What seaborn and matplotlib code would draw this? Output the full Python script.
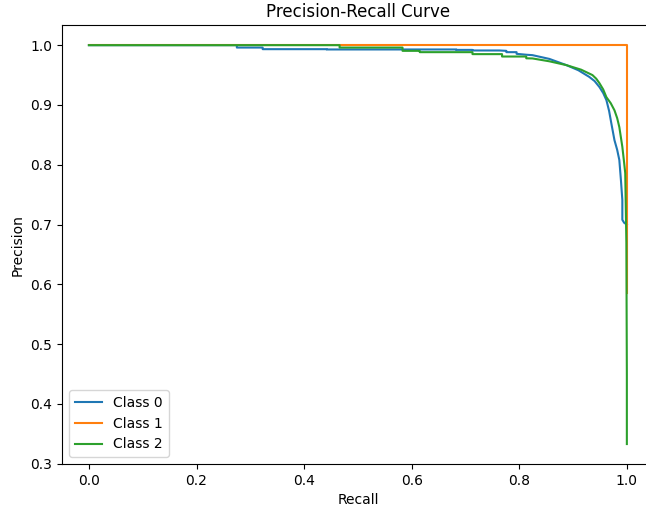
import matplotlib
matplotlib.use("Agg")
import matplotlib.pyplot as plt
import seaborn as sns
import pandas as pd

# Class 0 (blue)
recall_0 = [0.0, 0.275, 0.275, 0.323, 0.323, 0.442, 0.442, 0.683, 0.683, 0.713, 0.713,
            0.763, 0.776, 0.776, 0.795, 0.795, 0.813, 0.8245, 0.856, 0.8877, 0.910, 0.930,
            0.940, 0.949, 0.956, 0.962, 0.967, 0.971, 0.977, 0.982, 0.986, 0.989, 0.9916,
            0.9916, 0.995, 1.0]
precision_0 = [1.0, 1.0, 0.996, 0.996, 0.9933, 0.9933, 0.9928, 0.9928, 0.9921, 0.9921, 0.9911,
               0.9911, 0.9905, 0.9883, 0.9883, 0.9855, 0.9840, 0.9833, 0.977, 0.9666, 0.958,
               0.947, 0.940, 0.930, 0.920, 0.908, 0.890, 0.870, 0.841, 0.825, 0.808, 0.774,
               0.741, 0.708, 0.703, 0.700]

# Class 1 (orange)
recall_1 = [0.0, 1.0, 1.0]
precision_1 = [1.0, 1.0, 0.586]

# Class 2 (green)
recall_2 = [0.0, 0.466, 0.466, 0.583, 0.583, 0.615, 0.615, 0.713, 0.713, 0.768, 0.768,
            0.813, 0.813, 0.8245, 0.856, 0.8877, 0.915, 0.936, 0.943, 0.949, 0.956, 0.962,
            0.970, 0.977, 0.982, 0.986, 0.9916, 0.995, 0.997, 0.9991, 1.0, 1.0]
precision_2 = [1.0, 1.0, 0.996, 0.996, 0.9905, 0.9905, 0.9883, 0.9883, 0.985, 0.985, 0.981,
               0.981, 0.978, 0.9778, 0.973, 0.9666, 0.959, 0.950, 0.944, 0.9365, 0.926, 0.913,
               0.903, 0.891, 0.878, 0.863, 0.830, 0.803, 0.786, 0.669, 0.45, 0.333]

labels = ["Class 0", "Class 1", "Class 2"]
colors = ["#1f77b4", "#ff7f0e", "#2ca02c"]
series = [(recall_0, precision_0), (recall_1, precision_1), (recall_2, precision_2)]

fig = plt.figure(figsize=(6.46, 5.12), dpi=100)
ax = fig.add_axes([0.096, 0.09375, 0.916, 0.857])

for (r, p), lab, col in zip(series, labels, colors):
    df = pd.DataFrame({"Recall": r, "Precision": p})
    sns.lineplot(data=df, x="Recall", y="Precision", sort=False, estimator=None,
                 color=col, label=lab, linewidth=1.5, ax=ax)

ax.set_title("Precision-Recall Curve")
ax.set_xlabel("Recall")
ax.set_ylabel("Precision")
ax.legend(loc="lower left")

fig.savefig("out.png", dpi=100)
